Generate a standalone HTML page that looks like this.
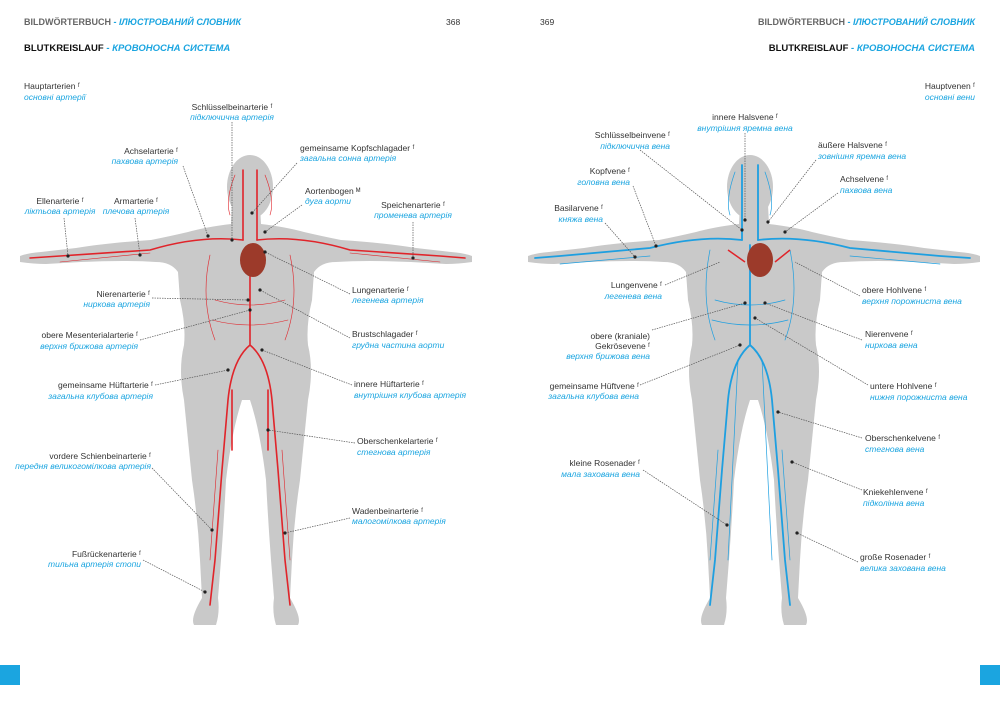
<!DOCTYPE html>
<html><head><meta charset="utf-8"><style>
body{margin:0;background:#fff}
svg{display:block}
text{font-family:"Liberation Sans",sans-serif;font-size:8.5px;fill:#333}
.u{fill:#1ba5e0;font-style:italic}
.h{font-size:9px;font-weight:bold;fill:#666}
.t{font-size:9.5px;font-weight:bold;fill:#111}
.hu{font-size:9px;font-weight:bold;font-style:italic;fill:#1ba5e0}
.tu{font-size:9.5px;font-weight:bold;font-style:italic;fill:#1ba5e0}
.e{text-anchor:end}.m{text-anchor:middle}
.l{stroke:#555;stroke-width:.7;stroke-dasharray:1.5 1;fill:none}
.d{fill:#222}
.a{stroke:#e0242a;fill:none;stroke-linecap:round}
.v{stroke:#1e9fe0;fill:none;stroke-linecap:round}
</style></head><body>
<svg width="1000" height="709" viewBox="0 0 1000 709">
<defs>
<path id="body" d="M-14,205 L-15,224 Q-40,227 -58,232 Q-75,236 -95,240 Q-140,243 -170,248 L-205,252 Q-218,253 -226,256 L-226,262 Q-212,264 -200,264 L-165,262 Q-120,260 -90,262 Q-75,262 -68,272 L-66,300 Q-60,325 -62,345 Q-68,370 -62,400 Q-58,440 -54,480 Q-48,520 -46,560 L-44,598 Q-56,618 -52,625 L-30,625 Q-26,612 -28,598 L-25,560 Q-22,520 -20,480 Q-14,430 -4,400 L4,400 Q14,430 20,480 Q22,520 25,560 L28,598 Q26,612 30,625 L52,625 Q56,618 44,598 L46,560 Q48,520 54,480 Q58,440 62,400 Q68,370 62,345 Q60,325 66,300 L68,272 Q75,262 90,262 Q120,260 165,262 L200,264 Q212,264 226,262 L226,256 Q218,253 205,252 L170,248 Q140,243 95,240 Q75,236 58,232 Q40,227 15,224 L14,205 Z"/>
</defs>
<g transform="translate(246,0)"><use href="#body" fill="#c9c9c9"/><ellipse cx="4" cy="187" rx="23" ry="32" fill="#c9c9c9"/></g>
<g transform="translate(754,0)"><use href="#body" fill="#c9c9c9"/><ellipse cx="-4" cy="187" rx="23" ry="32" fill="#c9c9c9"/></g>
<!-- arteries -->
<g class="a" stroke-width="1.6">
<path d="M250,245 L250,345 M250,345 Q232,360 228,400 L222,470 L215,560 L210,605 M250,345 Q268,360 272,400 L278,470 L285,560 L290,605"/>
<path d="M243,240 Q200,235 150,250 L60,256 L30,258 M257,240 Q300,235 350,250 L440,256 L465,258"/>
<path d="M243,240 L243,170 M257,240 L257,170 M232,390 L232,450 M268,390 L268,450"/>
</g>
<g class="a" stroke-width=".6">
<path d="M235,175 Q225,200 230,215 M265,175 Q275,200 270,215 M210,255 Q200,300 215,340 M290,255 Q300,300 285,340 M215,300 Q250,310 285,300 M212,320 Q250,330 288,320 M218,450 L210,560 M282,450 L290,560 M150,253 L60,262 M350,253 L440,262"/>
</g>
<ellipse cx="253" cy="260" rx="13" ry="17" fill="#9c3a2a"/>
<!-- veins -->
<g class="v" stroke-width="1.8">
<path d="M750,245 L750,345 M750,345 Q732,360 728,400 L722,470 L715,560 L710,605 M750,345 Q768,360 772,400 L778,470 L785,560 L790,605"/>
<path d="M742,240 Q700,235 650,248 L560,256 L535,258 M758,240 Q800,235 850,248 L940,256 L970,258"/>
<path d="M742,240 L742,165 M758,240 L758,165"/>
</g>
<g class="v" stroke-width=".7">
<path d="M735,172 Q725,200 730,215 M765,172 Q775,200 770,215 M710,250 Q700,300 715,340 M790,250 Q800,300 785,340 M715,300 Q750,310 785,300 M712,320 Q750,330 788,320 M718,450 L710,560 M782,450 L790,560 M650,256 L560,264 M850,256 L940,264 M738,360 L728,560 M762,360 L772,560"/>
</g>
<ellipse cx="760" cy="260" rx="13" ry="17" fill="#9c3a2a"/>
<path d="M728,250 L745,262 M790,250 L775,262" stroke="#e0242a" stroke-width="1.5"/>
<!-- header -->
<text x="24" y="25" class="h">BILDWÖRTERBUCH <tspan class="hu">- ІЛЮСТРОВАНИЙ СЛОВНИК</tspan></text>
<text x="446" y="25" style="font-size:8.5px">368</text>
<text x="540" y="25" style="font-size:8.5px">369</text>
<text x="975" y="25" class="h e">BILDWÖRTERBUCH <tspan class="hu">- ІЛЮСТРОВАНИЙ СЛОВНИК</tspan></text>
<text x="24" y="51" class="t">BLUTKREISLAUF <tspan class="tu">- КРОВОНОСНА СИСТЕМА</tspan></text>
<text x="975" y="51" class="t e">BLUTKREISLAUF <tspan class="tu">- КРОВОНОСНА СИСТЕМА</tspan></text>
<rect x="0" y="665" width="20" height="20" fill="#1ba5e0"/><rect x="980" y="665" width="20" height="20" fill="#1ba5e0"/>
<!-- left leaders -->
<g class="l">
<path d="M232,122 L232,240 M183,166 L208,236 M297,163 L252,213 M302,205 L265,232 M64,218 L68,256 M135,218 L140,255 M413,222 L413,258 M152,298 L248,300 M350,294 L265,252 M140,340 L250,310 M350,338 L260,290 M155,385 L228,370 M352,385 L262,350 M355,443 L268,430 M152,468 L212,530 M350,518 L285,533 M143,560 L205,592"/>
</g>
<g class="d"><circle cx="232" cy="240" r="1.6"/><circle cx="208" cy="236" r="1.6"/><circle cx="252" cy="213" r="1.6"/><circle cx="265" cy="232" r="1.6"/><circle cx="68" cy="256" r="1.6"/><circle cx="140" cy="255" r="1.6"/><circle cx="413" cy="258" r="1.6"/><circle cx="248" cy="300" r="1.6"/><circle cx="265" cy="252" r="1.6"/><circle cx="250" cy="310" r="1.6"/><circle cx="260" cy="290" r="1.6"/><circle cx="228" cy="370" r="1.6"/><circle cx="262" cy="350" r="1.6"/><circle cx="268" cy="430" r="1.6"/><circle cx="212" cy="530" r="1.6"/><circle cx="285" cy="533" r="1.6"/><circle cx="205" cy="592" r="1.6"/></g>
<!-- right leaders -->
<g class="l">
<path d="M745,133 L745,220 M640,150 L742,230 M816,160 L768,222 M633,186 L656,246 M838,193 L785,232 M605,223 L635,257 M665,285 L720,262 M860,296 L795,262 M862,340 L765,303 M652,330 L745,303 M640,385 L740,345 M868,385 L755,318 M862,438 L778,412 M643,470 L727,525 M862,490 L792,462 M858,562 L797,533"/>
</g>
<g class="d"><circle cx="745" cy="220" r="1.6"/><circle cx="742" cy="230" r="1.6"/><circle cx="768" cy="222" r="1.6"/><circle cx="656" cy="246" r="1.6"/><circle cx="785" cy="232" r="1.6"/><circle cx="635" cy="257" r="1.6"/><circle cx="765" cy="303" r="1.6"/><circle cx="745" cy="303" r="1.6"/><circle cx="740" cy="345" r="1.6"/><circle cx="755" cy="318" r="1.6"/><circle cx="778" cy="412" r="1.6"/><circle cx="727" cy="525" r="1.6"/><circle cx="792" cy="462" r="1.6"/><circle cx="797" cy="533" r="1.6"/></g>
<!-- left labels -->
<text x="24" y="89">Hauptarterien ᶠ</text><text x="24" y="100" class="u">основні артерії</text>
<text x="232" y="110" class="m">Schlüsselbeinarterie ᶠ</text><text x="232" y="120" class="u m">підключична артерія</text>
<text x="178" y="154" class="e">Achselarterie ᶠ</text><text x="178" y="164" class="u e">пахвова артерія</text>
<text x="300" y="151">gemeinsame Kopfschlagader ᶠ</text><text x="300" y="161" class="u">загальна сонна артерія</text>
<text x="305" y="194">Aortenbogen ᴹ</text><text x="305" y="204" class="u">дуга аорти</text>
<text x="60" y="204" class="m">Ellenarterie ᶠ</text><text x="60" y="214" class="u m">ліктьова артерія</text>
<text x="136" y="204" class="m">Armarterie ᶠ</text><text x="136" y="214" class="u m">плечова артерія</text>
<text x="413" y="208" class="m">Speichenarterie ᶠ</text><text x="413" y="218" class="u m">променева артерія</text>
<text x="150" y="297" class="e">Nierenarterie ᶠ</text><text x="150" y="307" class="u e">ниркова артерія</text>
<text x="352" y="293">Lungenarterie ᶠ</text><text x="352" y="303" class="u">легенева артерія</text>
<text x="138" y="338" class="e">obere Mesenterialarterie ᶠ</text><text x="138" y="349" class="u e">верхня брижова артерія</text>
<text x="352" y="337">Brustschlagader ᶠ</text><text x="352" y="348" class="u">грудна частина аорти</text>
<text x="153" y="388" class="e">gemeinsame Hüftarterie ᶠ</text><text x="153" y="399" class="u e">загальна клубова артерія</text>
<text x="354" y="387">innere Hüftarterie ᶠ</text><text x="354" y="398" class="u">внутрішня клубова артерія</text>
<text x="357" y="444">Oberschenkelarterie ᶠ</text><text x="357" y="455" class="u">стегнова артерія</text>
<text x="151" y="459" class="e">vordere Schienbeinarterie ᶠ</text><text x="151" y="469" class="u e">передня великогомілкова артерія</text>
<text x="352" y="514">Wadenbeinarterie ᶠ</text><text x="352" y="524" class="u">малогомілкова артерія</text>
<text x="141" y="557" class="e">Fußrückenarterie ᶠ</text><text x="141" y="567" class="u e">тильна артерія стопи</text>
<!-- right labels -->
<text x="975" y="89" class="e">Hauptvenen ᶠ</text><text x="975" y="100" class="u e">основні вени</text>
<text x="745" y="120" class="m">innere Halsvene ᶠ</text><text x="745" y="131" class="u m">внутрішня яремна вена</text>
<text x="670" y="138" class="e">Schlüsselbeinvene ᶠ</text><text x="670" y="149" class="u e">підключична вена</text>
<text x="818" y="148">äußere Halsvene ᶠ</text><text x="818" y="159" class="u">зовнішня яремна вена</text>
<text x="630" y="174" class="e">Kopfvene ᶠ</text><text x="630" y="185" class="u e">головна вена</text>
<text x="840" y="182">Achselvene ᶠ</text><text x="840" y="193" class="u">пахвова вена</text>
<text x="603" y="211" class="e">Basilarvene ᶠ</text><text x="603" y="222" class="u e">княжа вена</text>
<text x="662" y="288" class="e">Lungenvene ᶠ</text><text x="662" y="299" class="u e">легенева вена</text>
<text x="862" y="293">obere Hohlvene ᶠ</text><text x="862" y="304" class="u">верхня порожниста вена</text>
<text x="865" y="337">Nierenvene ᶠ</text><text x="865" y="348" class="u">ниркова вена</text>
<text x="650" y="339" class="e">obere (kraniale)</text><text x="650" y="349" class="e">Gekrösevene ᶠ</text><text x="650" y="359" class="u e">верхня брижова вена</text>
<text x="639" y="389" class="e">gemeinsame Hüftvene ᶠ</text><text x="639" y="399" class="u e">загальна клубова вена</text>
<text x="870" y="389">untere Hohlvene ᶠ</text><text x="870" y="400" class="u">нижня порожниста вена</text>
<text x="865" y="441">Oberschenkelvene ᶠ</text><text x="865" y="452" class="u">стегнова вена</text>
<text x="640" y="466" class="e">kleine Rosenader ᶠ</text><text x="640" y="477" class="u e">мала захована вена</text>
<text x="863" y="495">Kniekehlenvene ᶠ</text><text x="863" y="506" class="u">підколінна вена</text>
<text x="860" y="560">große Rosenader ᶠ</text><text x="860" y="571" class="u">велика захована вена</text>
</svg>
</body></html>
